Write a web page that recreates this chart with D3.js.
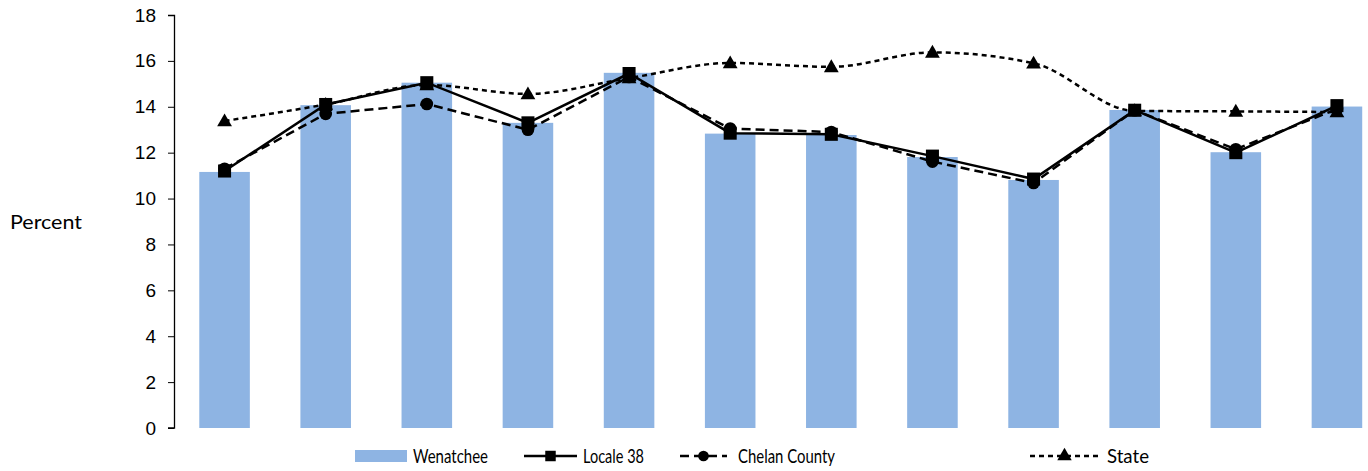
<!DOCTYPE html>
<html>
<head>
<meta charset="utf-8">
<script src="https://cdn.jsdelivr.net/npm/d3@7"></script>
<style>
  body { margin: 0; background: #fff; }
  svg { display: block; font-family: Lato, "Open Sans", sans-serif; }
</style>
</head>
<body>
<div id="chart"></div>
<script>
// Data (12 periods, no category labels shown)
const categories = ["1", "2", "3", "4", "5", "6", "7", "8", "9", "10", "11", "12"];
const wenatchee = [11.16, 14.07, 15.05, 13.3, 15.48, 12.83, 12.77, 11.81, 10.81, 13.86, 12.02, 14.01];
const locale38 = [11.2, 14.1, 15.05, 13.3, 15.45, 12.85, 12.8, 11.85, 10.85, 13.85, 12.0, 14.05];
const chelan = [11.3, 13.69, 14.12, 13.0, 15.3, 13.05, 12.9, 11.61, 10.68, 13.85, 12.15, 13.9];
const state = [13.38, 14.1, 14.95, 14.56, 15.25, 15.91, 15.74, 16.37, 15.9, 13.82, 13.8, 13.77];
const yTicks = [0, 2, 4, 6, 8, 10, 12, 14, 16, 18];

const W = 1368, H = 471;
const margin = {top: 15, left: 174, bottom: 43};
const plotW = 1213.5;   // plot runs past the right edge of the picture
const plotH = H - margin.top - margin.bottom;

const svg = d3.select("#chart").append("svg")
  .attr("width", W)
  .attr("height", H);

const g = svg.append("g")
  .attr("transform", `translate(${margin.left},${margin.top})`);

const x = d3.scaleBand()
  .domain(categories)
  .range([0, plotW])
  .paddingInner(0.5)
  .paddingOuter(0.25);

const y = d3.scaleLinear()
  .domain([0, 18])
  .range([plotH, 0]);

// bars
g.selectAll(".bar")
  .data(wenatchee)
  .enter().append("rect")
    .attr("class", "bar")
    .attr("x", (d, i) => x(categories[i]))
    .attr("width", x.bandwidth())
    .attr("y", d => y(d))
    .attr("height", d => plotH - y(d))
    .attr("fill", "#8eb4e3");

// y axis
const yAxis = g.append("g")
  .call(d3.axisLeft(y).tickValues(yTicks).tickSize(6).tickPadding(12));
yAxis.select(".domain").attr("stroke", "#000").attr("stroke-width", 1.3).attr("d", `M-6,0.5H0.5V${plotH}H-6`);
yAxis.selectAll(".tick line").attr("stroke", "#000").attr("stroke-width", 1);
yAxis.selectAll(".tick text")
  .style("font-size", "19px")
  .attr("fill", "#000");

svg.append("text")
  .attr("x", 10)
  .attr("y", 229)
  .style("font-size", "20px")
  .attr("textLength", 72)
  .attr("lengthAdjust", "spacingAndGlyphs")
  .text("Percent");

const cx = i => x(categories[i]) + x.bandwidth() / 2;

const series = [
  {name: "State", values: state, dash: "5,4", curve: d3.curveMonotoneX, marker: "triangle"},
  {name: "Chelan County", values: chelan, dash: "9,5", curve: d3.curveLinear, marker: "circle"},
  {name: "Locale 38", values: locale38, dash: null, curve: d3.curveLinear, marker: "square"}
];

const symbolFor = {
  triangle: d3.symbol().type(d3.symbolTriangle).size(95),
  circle: d3.symbol().type(d3.symbolCircle).size(125),
  square: d3.symbol().type(d3.symbolSquare).size(170)
};

series.forEach(s => {
  const line = d3.line()
    .x((d, i) => cx(i))
    .y(d => y(d))
    .curve(s.curve);

  g.append("path")
    .datum(s.values)
    .attr("fill", "none")
    .attr("stroke", "#000")
    .attr("stroke-width", 2.5)
    .attr("stroke-dasharray", s.dash)
    .attr("d", line);

  g.selectAll(".m-" + s.marker)
    .data(s.values)
    .enter().append("path")
      .attr("class", "m-" + s.marker)
      .attr("transform", (d, i) => `translate(${cx(i)},${y(d) + (s.marker === "triangle" ? 1 : 0)})`)
      .attr("d", symbolFor[s.marker])
      .attr("fill", "#000");
});

// legend
const legendY = 456;
const legend = svg.append("g");

legend.append("rect")
  .attr("x", 355).attr("y", legendY - 6)
  .attr("width", 52).attr("height", 12)
  .attr("fill", "#8eb4e3");
legend.append("text").attr("x", 413).attr("y", legendY + 7)
  .style("font-size", "19px")
  .attr("textLength", 75).attr("lengthAdjust", "spacingAndGlyphs")
  .text("Wenatchee");

const legendLines = [
  {x0: 524, x1: 577, tx: 583, len: 61, dash: null, marker: "square", label: "Locale 38"},
  {x0: 680, x1: 727, tx: 738, len: 97, dash: "9,5", marker: "circle", label: "Chelan County"},
  {x0: 1030, x1: 1099, tx: 1107, len: 42, dash: "5,4", marker: "triangle", label: "State"}
];

legendLines.forEach(l => {
  legend.append("line")
    .attr("x1", l.x0).attr("x2", l.x1)
    .attr("y1", legendY).attr("y2", legendY)
    .attr("stroke", "#000").attr("stroke-width", 2.5)
    .attr("stroke-dasharray", l.dash);
  legend.append("path")
    .attr("transform", `translate(${(l.x0 + l.x1) / 2},${legendY})`)
    .attr("d", symbolFor[l.marker].size(l.marker === "square" ? 110 : 90))
    .attr("fill", "#000");
  legend.append("text").attr("x", l.tx).attr("y", legendY + 7)
    .style("font-size", "19px")
    .attr("textLength", l.len).attr("lengthAdjust", "spacingAndGlyphs")
    .text(l.label);
});
</script>
</body>
</html>
